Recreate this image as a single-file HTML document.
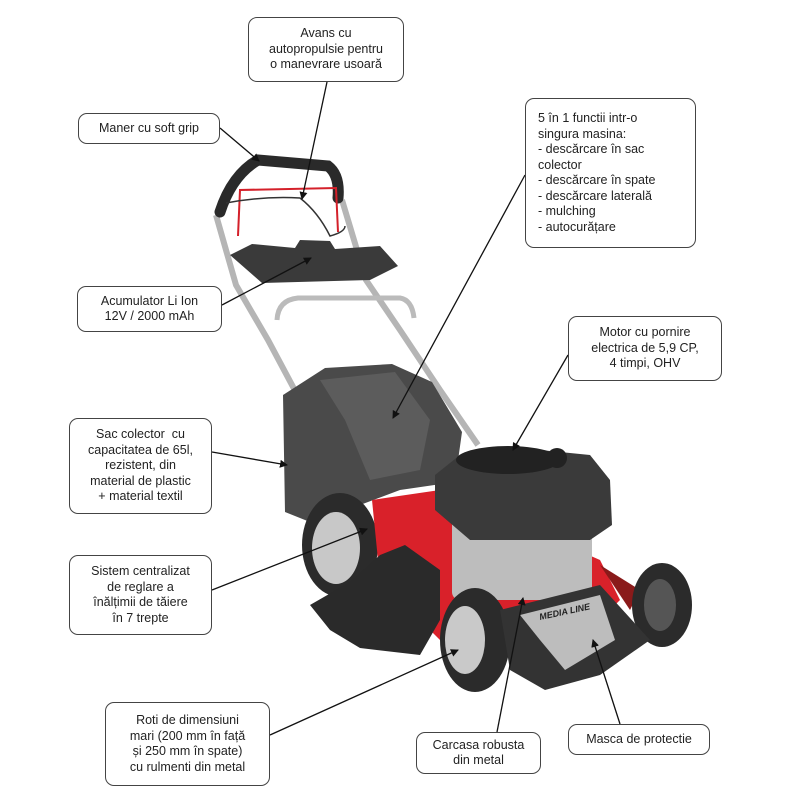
<!DOCTYPE html>
<html><head><meta charset="utf-8"><style>
body{margin:0;background:#fff;width:800px;height:800px;overflow:hidden;position:relative;font-family:"Liberation Sans",Arial,sans-serif}
.b{position:absolute;border:1.3px solid #444;border-radius:9px;background:#fff;font-size:12.5px;line-height:15.5px;color:#222;text-align:center;box-sizing:border-box;display:flex;flex-direction:column;justify-content:center}
svg{position:absolute;left:0;top:0}
</style></head><body>
<svg width="800" height="800" viewBox="0 0 800 800">
<defs><marker id="a" markerWidth="8" markerHeight="8" refX="7" refY="4" orient="auto" markerUnits="userSpaceOnUse"><path d="M0,0 L8,4 L0,8 z" fill="#111"/></marker></defs>
<!-- rails -->
<path d="M216,215 L236,285 L268,340 L300,400 L345,470" stroke="#b5b5b5" stroke-width="6" fill="none"/>
<path d="M342,200 L366,280 L400,330 L440,390 L478,445" stroke="#b5b5b5" stroke-width="6" fill="none"/>
<path d="M277,320 Q278,300 298,298 L400,298 Q412,300 414,318" stroke="#bbb" stroke-width="5" fill="none"/>
<!-- handle -->
<path d="M220,212 Q232,175 258,160 L328,166 Q340,175 338,198" stroke="#2a2a2a" stroke-width="11" fill="none" stroke-linecap="round"/>
<path d="M238,236 L240,190 L336,188 L338,232" stroke="#d4202a" stroke-width="2" fill="none"/>
<path d="M226,203 Q262,196 300,198 Q318,212 330,236 Q345,232 345,226" stroke="#333" stroke-width="1.5" fill="none"/>
<!-- control box -->
<path d="M230,255 L252,244 L295,248 L300,240 L330,241 L335,249 L380,246 L398,266 L370,280 L262,283 Z" fill="#3a3a3a"/>
<!-- bag -->
<path d="M283,395 L325,368 L392,364 L432,382 L462,432 L455,482 L400,490 L360,505 L310,522 L285,512 Z" fill="#4a4a4a"/>
<path d="M320,380 L395,372 L430,420 L420,470 L370,480 L345,420 Z" fill="#5c5c5c"/>
<!-- rear wheel -->
<ellipse cx="340" cy="545" rx="38" ry="52" fill="#2b2b2b"/><ellipse cx="336" cy="548" rx="24" ry="36" fill="#c8c8c8"/>
<!-- deck -->
<path d="M372,500 L440,490 L600,560 L620,600 L590,630 L520,650 L440,640 L380,580 Z" fill="#d9212a"/>
<path d="M600,565 L640,590 L630,610 Z" fill="#8a1a1a"/>
<!-- right wheel -->
<ellipse cx="662" cy="605" rx="30" ry="42" fill="#2b2b2b"/><ellipse cx="660" cy="605" rx="16" ry="26" fill="#555"/>
<!-- engine -->
<rect x="452" y="505" width="140" height="95" rx="8" fill="#bdbdbd"/>
<path d="M435,475 L460,455 L520,448 L590,455 L610,480 L612,525 L590,540 L470,540 L435,510 Z" fill="#3a3a3a"/>
<ellipse cx="508" cy="460" rx="52" ry="14" fill="#222"/>
<circle cx="557" cy="458" r="10" fill="#222"/>
<!-- flap -->
<path d="M310,605 L350,582 L380,555 L405,545 L440,570 L440,620 L420,655 L360,648 L330,630 Z" fill="#2a2a2a"/>
<!-- front wheel -->
<ellipse cx="475" cy="640" rx="35" ry="52" fill="#2b2b2b"/><ellipse cx="465" cy="640" rx="20" ry="34" fill="#c9c9c9"/>
<!-- bumper -->
<path d="M500,610 L600,585 L650,640 L600,675 L545,690 L510,670 Z" fill="#333"/>
<path d="M520,615 L600,595 L615,640 L565,670 L540,640 Z" fill="#bdbdbd"/>
<text x="540" y="620" font-size="9" font-style="italic" font-weight="bold" fill="#222" transform="rotate(-12 540 620)">MEDIA LINE</text>
<!-- connectors -->
<g stroke="#111" stroke-width="1.3" fill="none" marker-end="url(#a)">
<line x1="327" y1="82" x2="302" y2="199"/>
<line x1="220" y1="128" x2="259" y2="161"/>
<line x1="525" y1="175" x2="393" y2="418"/>
<line x1="222" y1="305" x2="311" y2="258"/>
<line x1="568" y1="355" x2="513" y2="450"/>
<line x1="212" y1="452" x2="287" y2="465"/>
<line x1="212" y1="590" x2="367" y2="529"/>
<line x1="270" y1="735" x2="458" y2="650"/>
<line x1="497" y1="732" x2="523" y2="598"/>
<line x1="620" y1="724" x2="593" y2="640"/>
</g>
</svg>
<div class="b" style="left:248px;top:17px;width:156px;height:65px">Avans cu<br>autopropulsie pentru<br>o manevrare usoară</div>
<div class="b" style="left:78px;top:113px;width:142px;height:31px">Maner cu soft grip</div>
<div class="b" style="left:525px;top:98px;width:171px;height:150px;text-align:left;padding-left:12px">5 în 1 functii intr-o<br>singura masina:<br>- descărcare în sac<br>colector<br>- descărcare în spate<br>- descărcare laterală<br>- mulching<br>- autocurățare</div>
<div class="b" style="left:77px;top:286px;width:145px;height:46px">Acumulator Li Ion<br>12V / 2000 mAh</div>
<div class="b" style="left:568px;top:316px;width:154px;height:65px">Motor cu pornire<br>electrica de 5,9 CP,<br>4 timpi, OHV</div>
<div class="b" style="left:69px;top:418px;width:143px;height:96px">Sac colector &nbsp;cu<br>capacitatea de 65l,<br>rezistent, din<br>material de plastic<br>+ material textil</div>
<div class="b" style="left:69px;top:555px;width:143px;height:80px">Sistem centralizat<br>de reglare a<br>înălțimii de tăiere<br>în 7 trepte</div>
<div class="b" style="left:105px;top:702px;width:165px;height:84px">Roti de dimensiuni<br>mari (200 mm în față<br>și 250 mm în spate)<br>cu rulmenti din metal</div>
<div class="b" style="left:416px;top:732px;width:125px;height:42px">Carcasa robusta<br>din metal</div>
<div class="b" style="left:568px;top:724px;width:142px;height:31px">Masca de protectie</div>
</body></html>
